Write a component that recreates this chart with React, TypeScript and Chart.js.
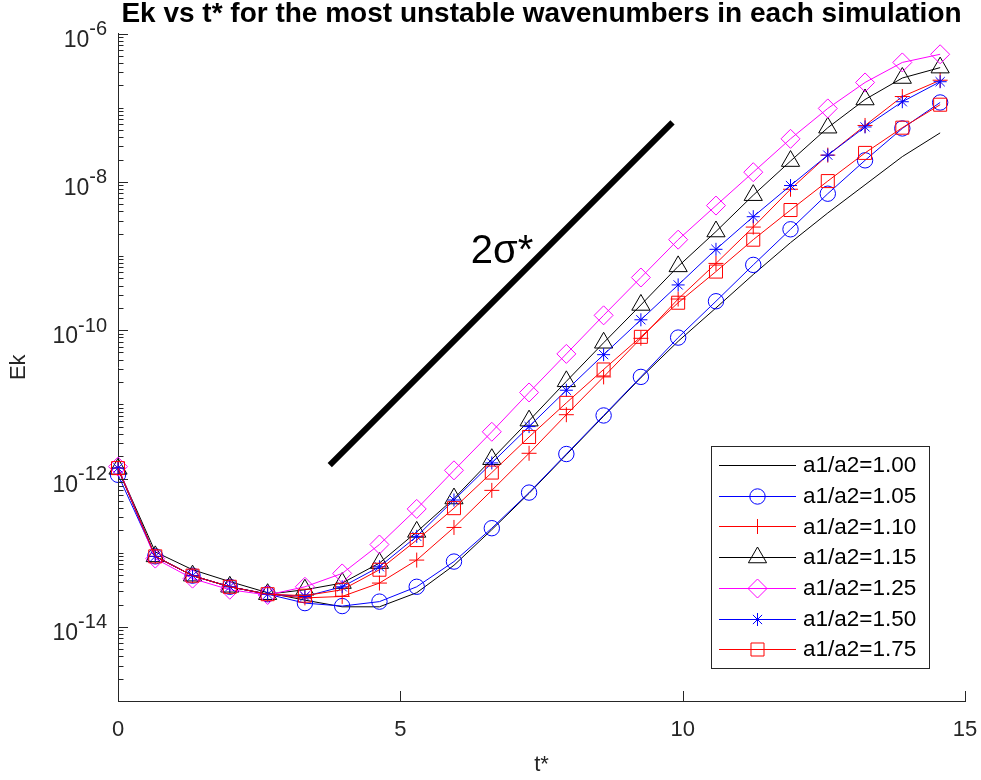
import React, { useEffect, useRef } from 'react';
import { Chart, registerables } from 'chart.js';
import { drawPoint } from 'chart.js/helpers';

Chart.register(...registerables);

// ---------- data ----------
const tStar = [0, 0.66, 1.32, 1.98, 2.65, 3.31, 3.97, 4.63, 5.29, 5.95, 6.62, 7.28, 7.94, 8.6, 9.26, 9.92, 10.59, 11.25, 11.91, 12.57, 13.23, 13.89, 14.56];

// log10(Ek) for each simulation
const log10Ek_100 = [-11.86, -12.99, -13.23, -13.39, -13.54, -13.64, -13.73, -13.73, -13.54, -13.17, -12.69, -12.2, -11.68, -11.16, -10.64, -10.15, -9.7, -9.25, -8.82, -8.42, -8.04, -7.66, -7.34];
const log10Ek_105 = [-11.95, -13.05, -13.31, -13.46, -13.56, -13.68, -13.72, -13.66, -13.46, -13.12, -12.67, -12.19, -11.67, -11.15, -10.63, -10.1, -9.61, -9.12, -8.64, -8.16, -7.71, -7.28, -6.93];
const log10Ek_110 = [-11.86, -13.05, -13.31, -13.46, -13.56, -13.61, -13.59, -13.41, -13.1, -12.66, -12.16, -11.66, -11.14, -10.63, -10.11, -9.58, -9.1, -8.61, -8.1, -7.64, -7.24, -6.85, -6.63];
const log10Ek_115 = [-11.87, -13.05, -13.31, -13.46, -13.56, -13.5, -13.41, -13.14, -12.72, -12.27, -11.74, -11.22, -10.69, -10.17, -9.66, -9.14, -8.67, -8.18, -7.72, -7.27, -6.89, -6.6, -6.46];
const log10Ek_125 = [-11.84, -13.08, -13.35, -13.5, -13.57, -13.46, -13.28, -12.89, -12.41, -11.89, -11.37, -10.84, -10.32, -9.8, -9.29, -8.78, -8.32, -7.87, -7.42, -7.01, -6.66, -6.39, -6.28];
const log10Ek_150 = [-11.86, -13.05, -13.31, -13.46, -13.56, -13.59, -13.46, -13.19, -12.78, -12.29, -11.79, -11.3, -10.81, -10.33, -9.86, -9.39, -8.91, -8.47, -8.05, -7.64, -7.26, -6.92, -6.65];
const log10Ek_175 = [-11.86, -13.05, -13.31, -13.46, -13.56, -13.58, -13.5, -13.23, -12.83, -12.4, -11.92, -11.44, -10.98, -10.53, -10.09, -9.63, -9.21, -8.78, -8.38, -7.99, -7.61, -7.27, -6.96];

const seriesLabels = ['a1/a2=1.00', 'a1/a2=1.05', 'a1/a2=1.10', 'a1/a2=1.15', 'a1/a2=1.25', 'a1/a2=1.50', 'a1/a2=1.75'];
const seriesLog10Ek = [log10Ek_100, log10Ek_105, log10Ek_110, log10Ek_115, log10Ek_125, log10Ek_150, log10Ek_175];

// reference slope line "2σ*"
const slopeLineT = [3.75, 9.82];
const slopeLineEk = [1.51e-12, 6.35e-8];
const slopeLabel = '2σ*';
const slopeLabelT = 6.8;
const slopeLabelEk = 8.1e-10;

// axes
const xTicks = [0, 5, 10, 15];
const yTickExponents = [-6, -8, -10, -12, -14];
const yMin = 1e-15;
const yMax = 1e-6;

const titleText = 'Ek vs t* for the most unstable wavenumbers in each simulation';
const xTitle = 't*';
const yTitle = 'Ek';

// ---------- styles ----------
const seriesColors = ['#000000', '#0000ff', '#ff0000', '#000000', '#ff00ff', '#0000ff', '#ff0000'];
const seriesMarkers: (string | false)[] = [false, 'circle', 'cross', 'triangle', 'rectRot', 'star', 'rect'];
const seriesMarkerRadius = [0, 7.7, 7.5, 10.5, 9.5, 6.5, 9.2];

const FONT = '"Liberation Sans", Arial, Helvetica, sans-serif';
const AXIS_COLOR = '#262626';

const decorPlugin = {
  id: 'matlabDecor',
  afterDraw(chart: any) {
    const ctx: CanvasRenderingContext2D = chart.ctx;
    const xs = chart.scales.x;
    const ys = chart.scales.y;
    const area = chart.chartArea;
    ctx.save();

    // inward tick marks
    ctx.strokeStyle = AXIS_COLOR;
    ctx.lineWidth = 1;
    ys.ticks.forEach((t: any) => {
      const e = Math.log10(t.value);
      const major = yTickExponents.some((k) => Math.abs(k - e) < 1e-6);
      const py = Math.round(ys.getPixelForValue(t.value)) + 0.5;
      const len = major ? 10 : 5.5;
      ctx.beginPath();
      ctx.moveTo(area.left, py);
      ctx.lineTo(area.left + len, py);
      ctx.stroke();
    });
    xs.ticks.forEach((t: any) => {
      const px = Math.round(xs.getPixelForValue(t.value)) + 0.5;
      ctx.beginPath();
      ctx.moveTo(px, area.bottom);
      ctx.lineTo(px, area.bottom - 10);
      ctx.stroke();
    });

    // y tick labels with superscript exponent
    ctx.fillStyle = AXIS_COLOR;
    ctx.textAlign = 'left';
    ctx.textBaseline = 'alphabetic';
    const baseFont = `23px ${FONT}`;
    const supFont = `20px ${FONT}`;
    yTickExponents.forEach((e) => {
      const py = ys.getPixelForValue(Math.pow(10, e));
      const sup = String(e);
      ctx.font = supFont;
      const supW = ctx.measureText(sup).width;
      ctx.font = baseFont;
      const baseW = ctx.measureText('10').width;
      const right = area.left - 11;
      ctx.fillText('10', right - supW - baseW, py + 13);
      ctx.font = supFont;
      ctx.fillText(sup, right - supW, py + 1.5);
    });

    // slope label
    ctx.fillStyle = '#000000';
    ctx.font = `40px ${FONT}`;
    ctx.textAlign = 'center';
    ctx.fillText(slopeLabel, xs.getPixelForValue(slopeLabelT), ys.getPixelForValue(slopeLabelEk));

    // legend box (bottom-right inside axes)
    const rowH = 30.7;
    const boxW = 218;
    const boxH = 222;
    const bx = area.right - 36 - boxW;
    const by = area.bottom - 33 - boxH;
    ctx.fillStyle = '#ffffff';
    ctx.fillRect(bx, by, boxW, boxH);
    ctx.strokeStyle = AXIS_COLOR;
    ctx.lineWidth = 1;
    ctx.strokeRect(Math.round(bx) + 0.5, Math.round(by) + 0.5, boxW, boxH);
    ctx.font = `22.5px ${FONT}`;
    ctx.textAlign = 'left';
    ctx.textBaseline = 'middle';
    seriesLabels.forEach((label, i) => {
      const cy = by + 19 + i * rowH;
      const x0 = bx + 8;
      const x1 = bx + 85;
      ctx.strokeStyle = seriesColors[i];
      ctx.lineWidth = 1;
      ctx.beginPath();
      ctx.moveTo(x0, Math.round(cy) + 0.5);
      ctx.lineTo(x1, Math.round(cy) + 0.5);
      ctx.stroke();
      const m = seriesMarkers[i];
      if (m) {
        ctx.fillStyle = 'rgba(0,0,0,0)';
        ctx.strokeStyle = seriesColors[i];
        drawPoint(ctx, { pointStyle: m as any, radius: seriesMarkerRadius[i], rotation: 0, borderWidth: 1 }, (x0 + x1) / 2, Math.round(cy) + 0.5);
      }
      ctx.fillStyle = '#000000';
      ctx.fillText(label, bx + 92, cy + 1);
    });

    ctx.restore();
  },
};

export default function App() {
  const canvasRef = useRef<HTMLCanvasElement>(null);

  useEffect(() => {
    if (!canvasRef.current) return;

    const datasets: any[] = seriesLabels.map((label, i) => ({
      label,
      data: tStar.map((t, k) => ({ x: t, y: Math.pow(10, seriesLog10Ek[i][k]) })),
      borderColor: seriesColors[i],
      borderWidth: 1,
      backgroundColor: 'rgba(0,0,0,0)',
      pointStyle: seriesMarkers[i] || 'circle',
      pointRadius: seriesMarkerRadius[i],
      pointHoverRadius: seriesMarkerRadius[i],
      pointBorderColor: seriesColors[i],
      pointBackgroundColor: 'rgba(0,0,0,0)',
      pointBorderWidth: 1,
      tension: 0,
      fill: false,
      clip: false,
      order: 10 - i,
    }));

    datasets.push({
      label: slopeLabel,
      data: slopeLineT.map((t, k) => ({ x: t, y: slopeLineEk[k] })),
      borderColor: '#000000',
      borderWidth: 6,
      borderCapStyle: 'butt',
      pointRadius: 0,
      fill: false,
      order: 20,
    });

    const chart = new Chart(canvasRef.current, {
      type: 'line',
      data: { datasets },
      plugins: [decorPlugin],
      options: {
        animation: false,
        responsive: false,
        events: [],
        layout: { padding: { left: 0, right: 16, top: 0, bottom: 0 } },
        plugins: {
          legend: { display: false },
          tooltip: { enabled: false },
          title: {
            display: true,
            text: titleText,
            fullSize: false,
            color: '#000000',
            font: { family: FONT, size: 28, weight: 'bold', lineHeight: 1 },
            padding: { top: 0, bottom: 5.5 },
          },
        },
        scales: {
          x: {
            type: 'linear',
            min: 0,
            max: 15,
            afterBuildTicks: (scale: any) => {
              scale.ticks = xTicks.map((v) => ({ value: v }));
            },
            afterFit: (scale: any) => {
              scale.height = 79;
              scale.paddingLeft = 0;
              scale.paddingRight = 0;
            },
            grid: { display: true, drawOnChartArea: false, drawTicks: false },
            border: { display: true, color: AXIS_COLOR, width: 1 },
            ticks: {
              color: AXIS_COLOR,
              font: { family: FONT, size: 22 },
              padding: 16,
              maxRotation: 0,
              autoSkip: false,
            },
            title: {
              display: true,
              text: xTitle,
              color: AXIS_COLOR,
              font: { family: FONT, size: 22 },
              padding: { top: 0, bottom: 2 },
            },
          },
          y: {
            type: 'logarithmic',
            min: yMin,
            max: yMax,
            afterBuildTicks: (scale: any) => {
              const ticks: any[] = [];
              for (let e = -15; e < -6; e++) {
                for (let m = 1; m <= 9; m++) ticks.push({ value: m * Math.pow(10, e) });
              }
              ticks.push({ value: yMax });
              scale.ticks = ticks;
            },
            afterFit: (scale: any) => {
              scale.width = 118;
              scale.paddingTop = 0;
              scale.paddingBottom = 0;
            },
            grid: { display: true, drawOnChartArea: false, drawTicks: false },
            border: { display: true, color: AXIS_COLOR, width: 1 },
            ticks: { display: false },
            title: {
              display: true,
              text: yTitle,
              color: AXIS_COLOR,
              font: { family: FONT, size: 22 },
              padding: { top: 6, bottom: 0 },
            },
          },
        },
      } as any,
    });

    return () => chart.destroy();
  }, []);

  return (
    <div style={{ position: 'absolute', left: 0, top: 0, width: 981, height: 780, background: '#ffffff' }}>
      <canvas ref={canvasRef} width={981} height={780} style={{ display: 'block', width: 981, height: 780 }} />
    </div>
  );
}
